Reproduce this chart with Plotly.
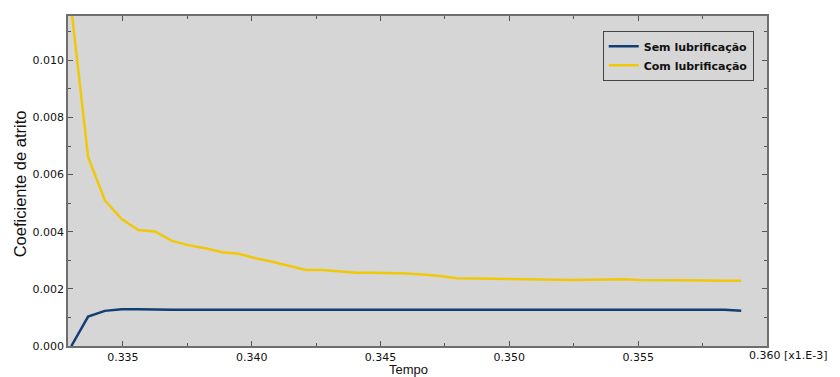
import plotly.graph_objects as go

tempo = [round(0.333 + 0.00065 * i, 5) for i in range(41)]

sem_lubrificacao = [0.0, 0.00103, 0.00123, 0.00129, 0.00129, 0.00127, 0.00127, 0.00127,
                    0.00127, 0.00128, 0.00127, 0.00127, 0.00127, 0.00127, 0.00128, 0.00127,
                    0.00127, 0.00127, 0.00127, 0.00127, 0.00128, 0.00127, 0.00127, 0.00127,
                    0.00127, 0.00127, 0.00127, 0.00127, 0.00127, 0.00127, 0.00127, 0.00127,
                    0.00127, 0.00127, 0.00127, 0.00127, 0.00127, 0.00127, 0.00127, 0.00127,
                    0.00123]

com_lubrificacao = [0.0118, 0.00662, 0.00510, 0.00444, 0.00406, 0.00401, 0.00368, 0.00353,
                    0.00342, 0.00328, 0.00323, 0.00307, 0.00295, 0.00280, 0.00266, 0.00266,
                    0.00261, 0.00256, 0.00256, 0.00255, 0.00254, 0.00250, 0.00245, 0.00237,
                    0.00236, 0.00235, 0.00234, 0.00233, 0.00232, 0.00231, 0.00231, 0.00232,
                    0.00233, 0.00234, 0.00231, 0.00231, 0.00231, 0.00230, 0.00229, 0.00228,
                    0.00228]

x_ticks = [0.335, 0.340, 0.345, 0.350, 0.355, 0.360]
x_tick_labels = ["0.335", "0.340", "0.345", "0.350", "0.355", ""]
x_last_label = "0.360 [x1.E-3]"
y_ticks = [0.0, 0.002, 0.004, 0.006, 0.008, 0.010]
y_tick_labels = ["0.000", "0.002", "0.004", "0.006", "0.008", "0.010"]

fig = go.Figure()
fig.add_trace(go.Scatter(x=tempo, y=sem_lubrificacao, mode="lines",
                         name="Sem lubrificação",
                         line=dict(color="#123f73", width=2.5)))
fig.add_trace(go.Scatter(x=tempo, y=com_lubrificacao, mode="lines",
                         name="Com lubrificação",
                         line=dict(color="#f0c808", width=2.5)))

tickfont = dict(family="DejaVu Sans", size=11, color="#111111")

# page body has an 8px margin, so the figure is 832x369 drawn at (8, 8)
fig.update_layout(
    width=832, height=369,
    margin=dict(l=60, r=73, t=8, b=31),
    paper_bgcolor="white",
    plot_bgcolor="#d6d6d6",
    showlegend=True,
    legend=dict(x=0.981, y=0.955, xanchor="right", yanchor="top",
                bgcolor="#d6d6d6", bordercolor="#444444", borderwidth=1,
                font=dict(family="DejaVu Sans", size=11, color="#111111", weight="bold"),
                tracegroupgap=0, itemwidth=30),
    xaxis=dict(range=[0.33287, 0.360], tickvals=x_ticks, ticktext=x_tick_labels,
               ticks="inside", ticklen=5, tickcolor="#555555", mirror="ticks",
               showline=True, linecolor="#6e6e6e", linewidth=1.5,
               showgrid=False, zeroline=False, tickfont=tickfont, automargin=False,
               minor=dict(dtick=0.0025, tick0=0.335, ticks="inside", ticklen=3,
                          tickcolor="#555555", showgrid=False)),
    yaxis=dict(range=[0, 0.01155], tickvals=y_ticks, ticktext=y_tick_labels,
               ticks="inside", ticklen=5, tickcolor="#555555", mirror="ticks",
               showline=True, linecolor="#6e6e6e", linewidth=1.5,
               showgrid=False, zeroline=False, tickfont=tickfont, automargin=False,
               minor=dict(dtick=0.001, tick0=0, ticks="inside", ticklen=3,
                          tickcolor="#555555", showgrid=False)),
)

fig.add_annotation(text=x_last_label, xref="paper", yref="paper", x=1.0, y=0,
                   xanchor="left", yanchor="top", xshift=-20, yshift=-1,
                   showarrow=False, font=tickfont)
fig.add_annotation(text="Tempo", xref="paper", yref="paper", x=0.487, y=0,
                   xanchor="center", yanchor="top", yshift=-15, borderpad=0,
                   showarrow=False,
                   font=dict(family="Liberation Sans", size=13, color="#111111"))
fig.add_annotation(text="Coeficiente de atrito", xref="paper", yref="paper", x=0, y=0.49,
                   xanchor="center", yanchor="middle", xshift=-48, textangle=-90,
                   showarrow=False,
                   font=dict(family="Liberation Sans", size=16.5, color="#111111"))

fig.write_html("out.html")
